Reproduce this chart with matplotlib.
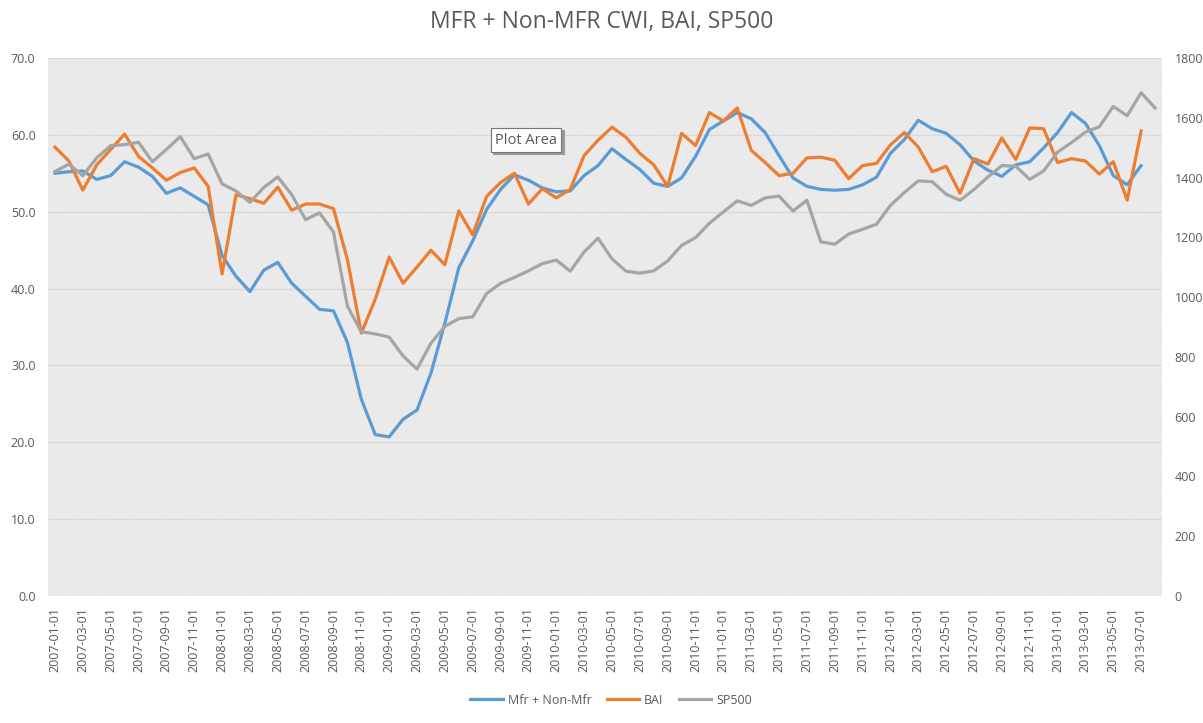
import matplotlib
matplotlib.use("Agg")
import matplotlib.pyplot as plt
from matplotlib.patches import Rectangle
import numpy as np
import pandas as pd

plt.rcParams['font.family'] = ['Open Sans', 'DejaVu Sans']
plt.rcParams['hatch.linewidth'] = 0.35

# monthly dates 2007-01 .. 2013-08
dates = pd.date_range('2007-01-01', '2013-08-01', freq='MS').strftime('%Y-%m-%d').tolist()

mfr = [55.0, 55.2, 55.3, 54.2, 54.7, 56.5, 55.8, 54.6, 52.4, 53.1, 52.0, 50.9,
       44.3, 41.6, 39.6, 42.4, 43.4, 40.7, 39.0, 37.3, 37.1, 33.0, 25.6, 21.0,
       20.7, 23.0, 24.2, 29.0, 35.5, 42.7, 46.2, 50.3, 52.9, 54.8, 54.1, 53.1,
       52.6, 52.7, 54.7, 56.0, 58.2, 56.8, 55.5, 53.7, 53.3, 54.4, 57.2, 60.7,
       61.8, 62.9, 62.1, 60.3, 57.3, 54.4, 53.3, 52.9, 52.8, 52.9, 53.5, 54.5,
       57.6, 59.4, 61.9, 60.8, 60.2, 58.7, 56.6, 55.4, 54.6, 56.1, 56.5, 58.3,
       60.3, 62.9, 61.5, 58.6, 54.7, 53.5, 56.0]

bai = [58.4, 56.6, 52.8, 56.1, 58.1, 60.1, 57.2, 55.7, 54.1, 55.1, 55.7, 53.3,
       41.9, 52.2, 51.7, 51.1, 53.2, 50.2, 51.0, 51.0, 50.4, 43.8, 34.2, 38.6,
       44.1, 40.7, 42.8, 45.0, 43.1, 50.1, 47.0, 52.0, 53.8, 55.0, 51.0, 53.0,
       51.8, 52.9, 57.3, 59.3, 61.0, 59.7, 57.6, 56.1, 53.3, 60.2, 58.6, 62.9,
       61.8, 63.5, 58.0, 56.4, 54.7, 55.0, 57.0, 57.1, 56.7, 54.3, 56.0, 56.3,
       58.7, 60.3, 58.4, 55.2, 55.9, 52.4, 56.9, 56.2, 59.6, 56.8, 60.9, 60.8,
       56.4, 56.9, 56.6, 54.9, 56.5, 51.5, 60.5]

sp500 = [1420, 1445, 1406, 1466, 1507, 1510, 1518, 1453, 1494, 1537, 1463, 1479,
         1379, 1355, 1317, 1367, 1402, 1343, 1259, 1282, 1218, 970, 884, 877,
         866, 803, 759, 846, 902, 928, 934, 1012, 1046, 1066, 1088, 1112,
         1124, 1087, 1151, 1197, 1128, 1087, 1080, 1088, 1121, 1173, 1199, 1247,
         1285, 1322, 1307, 1332, 1338, 1288, 1324, 1185, 1177, 1211, 1227, 1244,
         1307, 1350, 1389, 1386, 1344, 1324, 1360, 1402, 1440, 1438, 1394, 1422,
         1485, 1517, 1552, 1570, 1638, 1607, 1684, 1633]

left_ticks = np.arange(0, 71, 10)
right_ticks = np.arange(0, 1801, 200)

BLUE, ORANGE, GRAY = '#5b9bd5', '#ed7d31', '#a5a5a5'
TXT = '#595959'

fig = plt.figure(figsize=(12.03, 7.23), dpi=100)
ax = fig.add_axes([48 / 1203, 127 / 723, 1114 / 1203, 538 / 723])

# light downward diagonal fill of the plot area
ax.add_patch(Rectangle((0, 0), 1, 1, transform=ax.transAxes, facecolor='white',
                       edgecolor='#d2d2d2', hatch='\\' * 22, lw=0, zorder=0))

x = np.arange(len(dates))
l1, = ax.plot(x[:len(mfr)], mfr, color=BLUE, lw=2.3, label='Mfr + Non-Mfr',
              solid_joinstyle='round', zorder=3)
l2, = ax.plot(x[:len(bai)], bai, color=ORANGE, lw=2.3, label='BAI',
              solid_joinstyle='round', zorder=3)

ax.set_xlim(-0.5, len(dates) - 0.5)
ax.set_ylim(0, 70)
ax.set_yticks(left_ticks)
ax.set_yticklabels([f'{v:.1f}' for v in left_ticks])
ax.set_xticks(x[::2])
ax.set_xticklabels(dates[::2], rotation=90)
ax.set_axisbelow(False)
ax.grid(axis='y', color='#d9d9d9', lw=1)
for s in ax.spines.values():
    s.set_visible(False)
ax.tick_params(axis='both', length=0, colors=TXT, labelsize=9)
ax.tick_params(axis='y', pad=9)
ax.tick_params(axis='x', pad=8)

ax2 = ax.twinx()
l3, = ax2.plot(x, sp500, color=GRAY, lw=2.3, label='SP500', solid_joinstyle='round')
ax2.set_ylim(0, 1800)
ax2.set_yticks(right_ticks)
for s in ax2.spines.values():
    s.set_visible(False)
ax2.tick_params(axis='y', length=0, colors=TXT, labelsize=9, pad=9)

fig.text(0.5, 1 - 22 / 723, 'MFR + Non-MFR CWI, BAI, SP500', ha='center', va='center',
         fontsize=16.5, color=TXT)

fig.legend(handles=[l1, l2, l3], loc='center', bbox_to_anchor=(611 / 1203, 23 / 723),
           ncol=3, frameon=False, fontsize=9, handlelength=2.6, columnspacing=1.2,
           labelcolor=TXT, handletextpad=0.4)

# Excel tooltip left in the screenshot
fig.text(526 / 1203 + 0.002, 1 - 140 / 723 - 0.003, 'Plot Area', ha='center', va='center',
         fontsize=10.5, color='#9a9a9a',
         bbox=dict(boxstyle='square,pad=0.3', fc='#9a9a9a', ec='#9a9a9a', lw=0.8))
fig.text(526 / 1203, 1 - 140 / 723, 'Plot Area', ha='center', va='center',
         fontsize=10.5, color=TXT,
         bbox=dict(boxstyle='square,pad=0.3', fc='white', ec='#767676', lw=0.8))

fig.savefig('out.png', dpi=100)
